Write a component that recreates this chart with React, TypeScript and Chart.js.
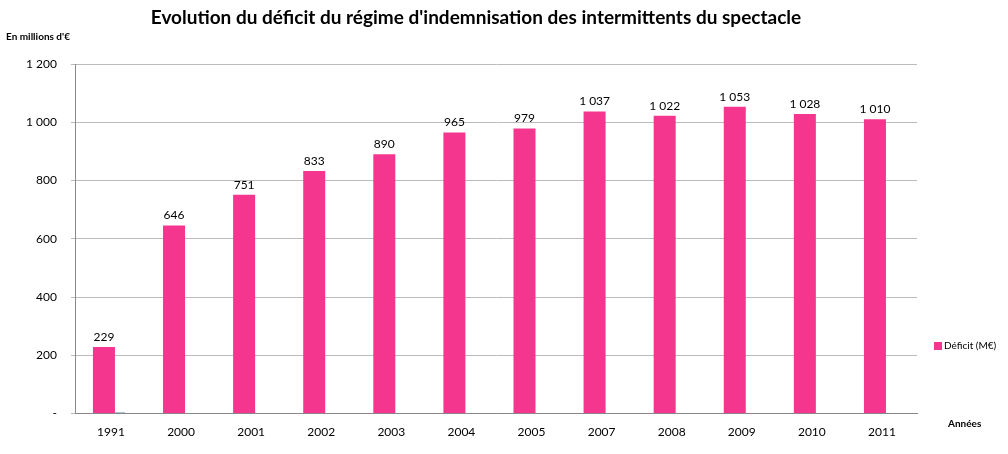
import React, { useEffect, useRef } from "react";
import { Chart, registerables } from "chart.js";
Chart.register(...registerables);

const categories = ["1991","2000","2001","2002","2003","2004","2005","2007","2008","2009","2010","2011"];
const deficit = [229,646,751,833,890,965,979,1037,1022,1053,1028,1010];
const other = [0,null,null,null,null,null,null,null,null,null,null,null];
const yTicks = [0,200,400,600,800,1000,1200];

const fmt = (v: number) => (v === 0 ? "-" : String(v).replace(/\B(?=(\d{3})+(?!\d))/g, " "));
const PINK = "#f5368f";
const FONT = "Lato, 'Open Sans', sans-serif";

export default function App() {
  const ref = useRef<HTMLCanvasElement>(null);
  useEffect(() => {
    document.body.style.margin = "0";
    const extras = {
      id: "extras",
      afterDraw(chart: any) {
        const ctx = chart.ctx;
        ctx.save();
        ctx.fillStyle = "#000";
        ctx.font = `bold 19px ${FONT}`;
        ctx.textAlign = "center";
        ctx.textBaseline = "middle";
        ctx.fillText("Evolution du déficit du régime d'indemnisation des intermittents du spectacle", 476, 18);
        ctx.font = `bold 10px ${FONT}`;
        ctx.textAlign = "left";
        ctx.fillText("En millions d'€", 6, 37);
        ctx.fillText("Années", 948, 424);
        ctx.fillStyle = PINK;
        ctx.fillRect(934, 342, 8, 8);
        ctx.fillStyle = "#000";
        ctx.font = `10px ${FONT}`;
        ctx.fillText("Déficit (M€)", 944, 346);
        const meta = chart.getDatasetMeta(0);
        ctx.font = `12px ${FONT}`;
        ctx.textAlign = "center";
        ctx.textBaseline = "bottom";
        meta.data.forEach((b: any, i: number) => {
          ctx.fillText(fmt(deficit[i]), b.x, b.y - 4);
        });
        ctx.restore();
      },
    };
    const chart = new Chart(ref.current!, {
      type: "bar",
      data: {
        labels: categories,
        datasets: [
          { label: "Déficit (M€)", data: deficit, backgroundColor: PINK, categoryPercentage: 0.4, barPercentage: 1.57 } as any,
          { label: "autre", data: other, backgroundColor: "#4f81bd", categoryPercentage: 0.4, barPercentage: 1.0, minBarLength: 1 } as any,
        ],
      },
      options: {
        animation: false,
        responsive: false,
        layout: { padding: { top: 64, right: 91, bottom: 12, left: 12 } },
        plugins: { legend: { display: false }, tooltip: { enabled: false }, title: { display: false } },
        scales: {
          x: {
            grid: { display: false },
            border: { color: "#888" },
            ticks: { color: "#000", font: { family: FONT, size: 12 } },
          },
          y: {
            min: 0,
            max: 1200,
            afterBuildTicks: (s: any) => { s.ticks = yTicks.map((v) => ({ value: v })); },
            grid: { color: "#bbb", drawTicks: true, tickLength: 5 },
            border: { color: "#888" },
            ticks: { color: "#000", padding: 14, font: { family: FONT, size: 12 }, callback: (v: any) => fmt(Number(v)) },
          },
        },
      },
      plugins: [extras],
    });
    return () => chart.destroy();
  }, []);
  return <canvas ref={ref} width={1008} height={454} style={{ display: "block", background: "#fff" }} />;
}
